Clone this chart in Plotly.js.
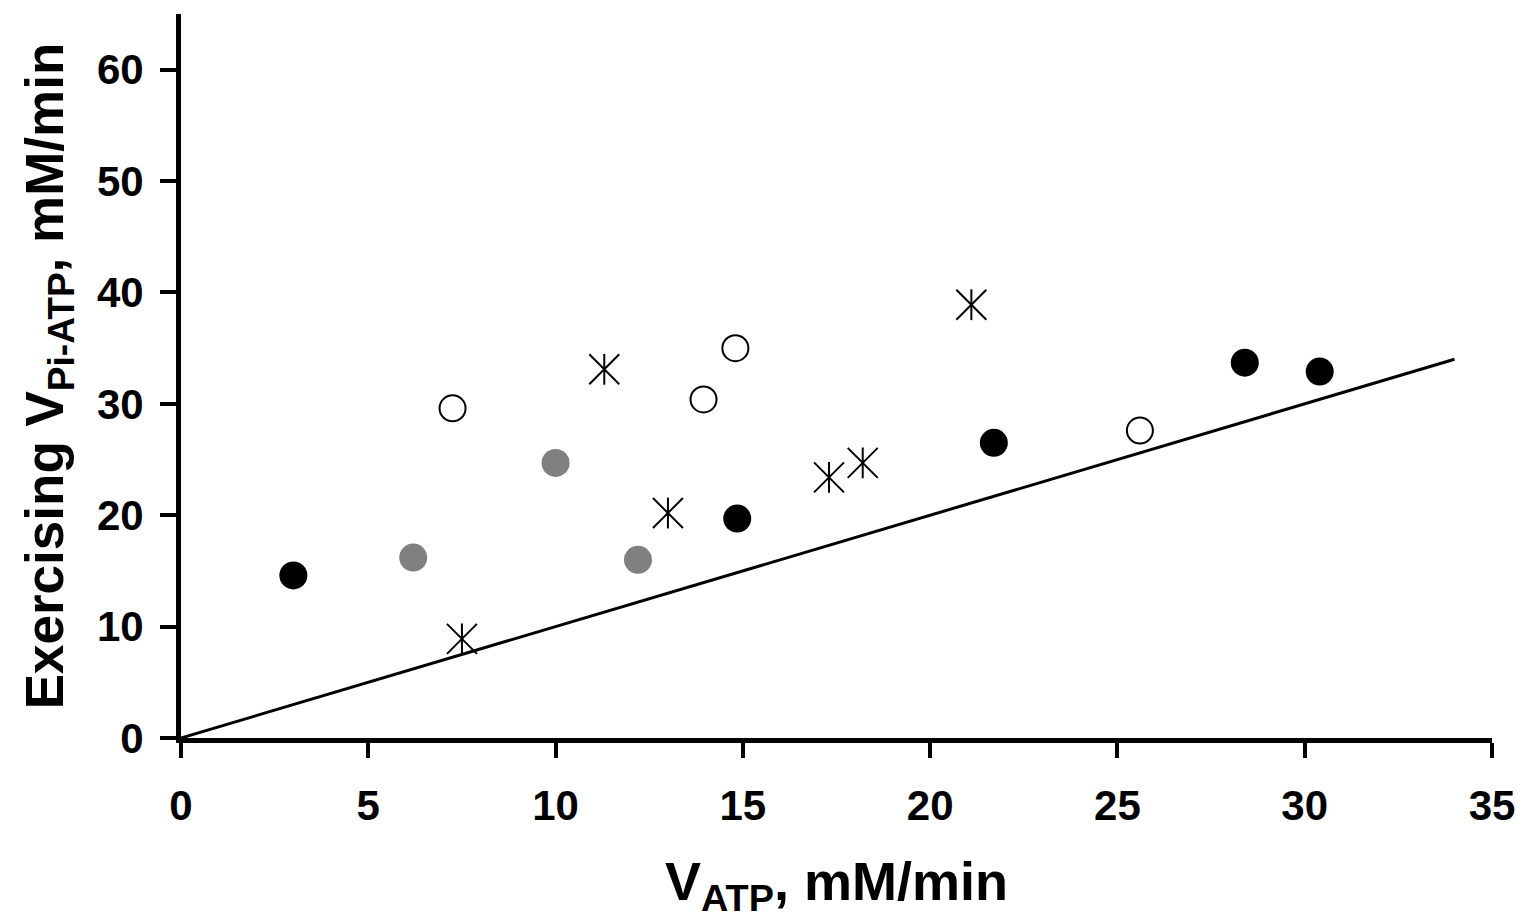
<!DOCTYPE html>
<html><head><meta charset="utf-8">
<script src="https://cdn.plot.ly/plotly-3.0.1.min.js"></script>
<style>body{margin:0;background:#fff}#chart{width:1517px;height:919px}</style>
</head><body><div id="chart"></div>
<script>
// Data
const blackX = [3.0, 14.85, 21.7, 28.4, 30.4];
const blackY = [14.6, 19.7, 26.5, 33.7, 32.9];
const grayX = [6.2, 10.0, 12.2];
const grayY = [16.2, 24.7, 16.0];
const openX = [7.25, 14.8, 13.95, 25.6];
const openY = [29.6, 35.0, 30.4, 27.6];
const starX = [7.5, 11.3, 13.0, 17.3, 18.2, 21.1];
const starY = [8.9, 33.1, 20.2, 23.4, 24.7, 38.9];
const lineX = [0, 34];
const lineY = [0, 34];
const xTicks = [0, 5, 10, 15, 20, 25, 30, 35];
const yTicks = [0, 10, 20, 30, 40, 50, 60];

const traces = [
  {x: lineX, y: lineY, mode: 'lines', line: {color: '#000', width: 3}, hoverinfo: 'skip'},
  {x: blackX, y: blackY, mode: 'markers', marker: {symbol: 'circle', size: 28, color: '#000'}},
  {x: grayX, y: grayY, mode: 'markers', marker: {symbol: 'circle', size: 28, color: '#808080'}},
  {x: openX, y: openY, mode: 'markers', marker: {symbol: 'circle-open', size: 26, color: '#000', line: {width: 2, color: '#000'}}},
  {x: starX, y: starY, mode: 'markers', marker: {symbol: 'x-thin-open', size: 30, color: '#000', line: {width: 2, color: '#000'}}},
  {x: starX, y: starY, mode: 'markers', marker: {symbol: 'line-ns-open', size: 22, color: '#000', line: {width: 2, color: '#000'}}}
];

const font = {family: '"Liberation Sans", Arial, sans-serif', color: '#000'};
const layout = {
  width: 1517, height: 919,
  margin: {l: 181, r: 25, t: 14, b: 181},
  paper_bgcolor: '#fff', plot_bgcolor: '#fff',
  showlegend: false,
  font: font,
  xaxis: {
    range: [0, 35], tickvals: xTicks, ticktext: xTicks.map(String),
    showgrid: false, zeroline: false, showline: true, linecolor: '#000', linewidth: 5,
    ticks: 'outside', ticklen: 15, tickwidth: 4, tickcolor: '#000',
    ticklabelstandoff: 12,
    tickfont: {family: font.family, size: 42, color: '#000', weight: 'bold'},
    title: {text: '<b>V<sub>ATP</sub>, mM/min</b>', font: {family: font.family, size: 54, color: '#000'}, standoff: 36}
  },
  yaxis: {
    range: [0, 65], tickvals: yTicks, ticktext: yTicks.map(String),
    showgrid: false, zeroline: false, showline: true, linecolor: '#000', linewidth: 5,
    ticks: 'outside', ticklen: 16, tickwidth: 4, tickcolor: '#000',
    ticklabelstandoff: 8,
    tickfont: {family: font.family, size: 42, color: '#000', weight: 'bold'},
    title: {text: '<b>Exercising V<sub>Pi-ATP</sub>, mM/min</b>', font: {family: font.family, size: 53, color: '#000'}, standoff: 18}
  }
};
Plotly.newPlot('chart', traces, layout, {displayModeBar: false, staticPlot: true});
</script>
</body></html>
